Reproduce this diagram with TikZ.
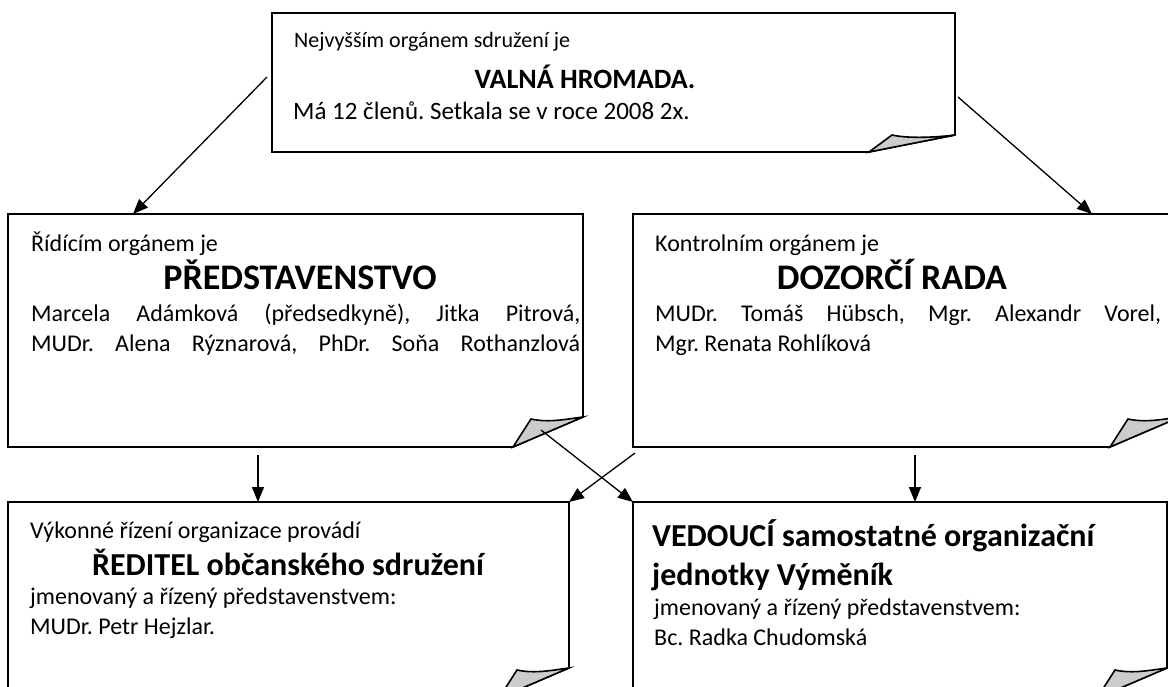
\documentclass[tikz,border=0pt]{standalone}
\usepackage{fontspec}
\setmainfont{Carlito}
\frenchspacing
\usetikzlibrary{arrows.meta,calc}
\definecolor{foldgray}{RGB}{204,204,204}
\newcommand\foldpaper[5]{%
  \draw[paper] (#1.north west) -- (#1.north east) -- ($(#1.south east)+(0,-#3)$) -- ($(#1.south east)+(-#2,0)$) -- (#1.south west) -- cycle;
  \draw[paper,fill=foldgray] ($(#1.south east)+(-#2,0)$) -- ($(#1.south east)+(#4,#5)$) .. controls ($(#1.south east)+(#4+18,#5+4)$) and ($(#1.south east)+(-16,-#3+2)$) .. ($(#1.south east)+(0,-#3)$) -- cycle;
}
\begin{document}
\begin{tikzpicture}[x=1pt,y=-1pt,
  frame/.style={draw=none,inner sep=0pt,outer sep=0pt,anchor=north west},
  paper/.style={draw=black,line width=1.6pt,line join=miter},
  conn/.style={draw=black,line width=1.3pt,-{Triangle[length=15pt,width=12pt]}},
  txt/.style={anchor=base west,inner sep=0pt,font=\fontsize{#1}{#1}\selectfont},
  txt/.default=24,
  head/.style={anchor=base,inner sep=0pt,font=\fontsize{#1}{#1}\selectfont\bfseries},
  headl/.style={anchor=base west,inner sep=0pt,font=\fontsize{32}{36}\selectfont\bfseries}]
\useasboundingbox (0,0) rectangle (1168,686);
\clip (0,0) rectangle (1168,686);
\fill[white] (0,0) rectangle (1168,686);

% frames
\node[frame,minimum width=683pt,minimum height=139pt] (top) at (272,13) {};
\node[frame,minimum width=575pt,minimum height=233pt] (midL) at (8,214) {};
\node[frame,minimum width=547pt,minimum height=233pt] (midR) at (633,214) {};
\node[frame,minimum width=561pt,minimum height=196pt] (botL) at (8,502) {};
\node[frame,minimum width=534pt,minimum height=196pt] (botR) at (633,502) {};

\foldpaper{top}{86}{17}{-63}{-17}
\foldpaper{midL}{70}{30}{-52}{-28}
\foldpaper{midR}{70}{30}{-52}{-28}
\foldpaper{botL}{70}{30}{-52}{-28}
\foldpaper{botR}{70}{30}{-52}{-28}

% texts
\node[txt=22] (t1) at (294,47) {Nejvyšším orgánem sdružení je};
\node[head=28] (t2) at (585,88) {VALNÁ HROMADA.};
\node[txt=25] (t3) at (293,119) {Má 12 členů. Setkala se v roce 2008 2x.};

\node[txt] (l1) at (31,251) {Řídícím orgánem je};
\node[head=36] (l2) at (300,289) {PŘEDSTAVENSTVO};
\node[txt] (l3) at (31,321) {\makebox[549pt][s]{Marcela Adámková (předsedkyně), Jitka Pitrová,}};
\node[txt] (l4) at (31,351) {\makebox[549pt][s]{MUDr. Alena Rýznarová, PhDr. Soňa Rothanzlová}};

\node[txt] (r1) at (655,251) {Kontrolním orgánem je};
\node[head=36] (r2) at (892,289) {DOZORČÍ RADA};
\node[txt] (r3) at (655,321) {\makebox[506pt][s]{MUDr. Tomáš Hübsch, Mgr. Alexandr Vorel,}};
\node[txt] (r4) at (655,351) {Mgr. Renata Rohlíková};

\node[txt] (b1) at (30,538) {Výkonné řízení organizace provádí};
\node[head=32] (b2) at (288,575) {ŘEDITEL občanského sdružení};
\node[txt] (b3) at (30,604) {jmenovaný a řízený představenstvem:};
\node[txt] (b4) at (30,634) {MUDr. Petr Hejzlar.};

\node[headl] (c1) at (652,546) {VEDOUCÍ samostatné organizační};
\node[headl] (c2) at (652,585) {jednotky Výměník};
\node[txt] (c3) at (654,615) {jmenovaný a řízený představenstvem:};
\node[txt] (c4) at (654,645) {Bc. Radka Chudomská};

% connector ends
\coordinate (a1s) at (267,77);
\coordinate (a1e) at (133,214);
\coordinate (a2s) at (958,97);
\coordinate (a2e) at (1092,214);
\coordinate (a3s) at (258,455);
\coordinate (a3e) at (258,502);
\coordinate (a4s) at (915,455);
\coordinate (a4e) at (915,502);
\coordinate (a5s) at (541,430);
\coordinate (a5e) at (633,502);
\coordinate (a6s) at (635,453);
\coordinate (a6e) at (569,502);

\draw[conn] (a1s) -- (a1e);
\draw[conn] (a2s) -- (a2e);
\draw[conn] (a3s) -- (a3e);
\draw[conn] (a4s) -- (a4e);
\draw[conn] (a5s) -- (a5e);
\draw[conn] (a6s) -- (a6e);
\end{tikzpicture}
\end{document}
